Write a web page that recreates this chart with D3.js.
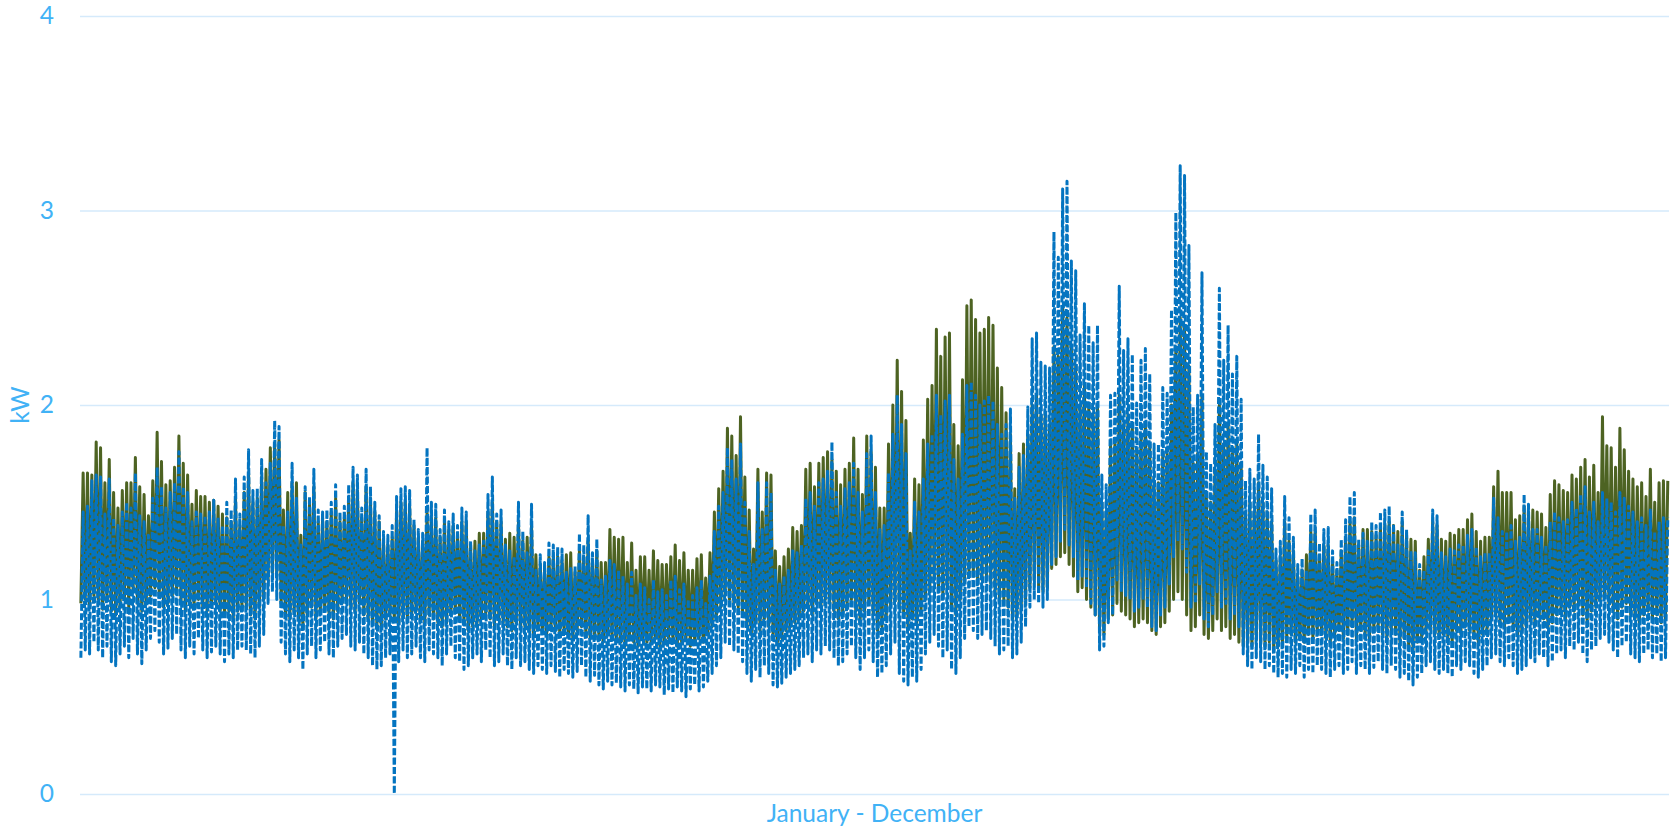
<!DOCTYPE html>
<html>
<head>
<meta charset="utf-8">
<script src="https://cdn.jsdelivr.net/npm/d3@7"></script>
<style>
  html, body { margin: 0; padding: 0; background: #ffffff; }
  svg { display: block; }
</style>
</head>
<body>
<svg id="chart" width="1675" height="828"></svg>
<script>
// Axis text
const yTicks = [0, 1, 2, 3, 4];
const xTitle = "January - December";
const yTitle = "kW";

// Daily peak (kW) of the solid series, one value per day of the year
const greenHigh = [
  // Jan - early Feb
  1.65,1.65,1.64,1.81,1.78,1.60,1.72,1.55,1.47,1.56,1.60,1.60,1.73,1.58,1.54,1.43,1.61,1.86,1.71,1.59,1.61,1.68,1.84,1.70,1.64,1.49,1.56,1.53,1.53,1.50,1.51,1.48,1.44,
  // Feb - Mar
  1.42,1.40,1.52,1.38,1.55,1.65,1.50,1.52,1.63,1.67,1.78,1.80,1.82,1.46,1.55,1.60,1.60,1.33,1.55,1.50,1.58,1.40,1.42,1.40,1.45,1.52,1.40,1.42,1.52,1.60,
  1.56,1.42,1.58,1.52,1.45,1.40,1.30,1.28,1.32,1.45,1.50,1.50,1.48,1.38,1.32,1.30,1.45,1.42,1.42,1.32,1.40,1.36,1.38,1.34,1.40,1.40,1.28,1.30,1.34,1.34,
  1.45,1.50,1.40,
  // Apr - early Jul
  1.40,1.31,1.34,1.32,1.40,1.30,1.32,1.38,1.23,1.18,1.16,1.22,1.22,1.22,1.20,1.23,1.24,1.14,1.25,1.22,1.30,1.20,1.25,1.19,1.19,1.36,1.32,1.31,1.32,1.19,
  1.29,1.15,1.22,1.22,1.15,1.25,1.20,1.18,1.18,1.22,1.28,1.20,1.24,1.15,1.15,1.21,1.23,1.11,1.24,1.45,1.57,1.66,1.88,1.84,1.74,1.94,1.63,1.46,1.26,1.67,
  1.45,1.65,1.64,1.25,1.17,1.22,1.26,1.37,1.35,1.38,1.67,1.70,1.58,1.70,1.73,1.76,1.72,1.66,1.59,1.67,1.70,1.83,1.67,1.54,1.84,1.76,1.68,1.47,1.47,1.80,
  2.00,2.23,
  // Jul
  2.07,1.92,1.34,1.62,1.59,1.82,2.03,2.10,2.39,2.25,2.35,2.37,1.90,1.79,2.13,2.51,2.54,2.44,2.37,2.39,2.45,2.41,2.19,2.09,1.96,
  // Aug - Sep
  1.85,1.57,1.75,1.80,1.85,2.00,2.05,1.95,1.95,1.90,2.30,2.25,2.50,2.45,2.30,2.20,2.00,2.10,2.00,1.95,2.00,1.50,1.45,1.80,1.80,2.05,1.90,1.95,1.90,1.75,
  1.85,1.90,1.80,1.60,1.60,1.75,1.75,2.00,2.30,2.45,2.40,2.20,1.70,1.75,2.05,1.55,1.50,1.65,2.00,1.80,1.90,1.75,1.80,1.70,1.45,1.50,1.45,1.60,1.50,1.45,
  1.40,1.20,1.22,
  // Oct - Nov
  1.40,1.30,1.25,1.12,1.15,1.23,1.35,1.35,1.22,1.28,1.28,1.20,1.15,1.25,1.32,1.40,1.42,1.28,1.36,1.36,1.35,1.33,1.37,1.38,1.40,1.38,1.35,1.40,1.33,1.31,
  1.30,1.15,1.22,1.31,1.40,1.38,1.31,1.30,1.34,1.33,1.36,1.36,1.41,1.44,1.35,1.30,1.32,1.32,1.58,1.66,1.55,1.55,1.55,1.41,1.43,1.48,1.45,1.46,
  // Dec
  1.45,1.44,1.37,1.54,1.61,1.59,1.56,1.55,1.64,1.62,1.68,1.72,1.63,1.69,1.55,1.94,1.79,1.78,1.68,1.88,1.77,1.66,1.62,1.58,1.60,1.53,1.67,1.50,1.60,1.61,
  1.61
];

// Daily minimum (kW) of the solid series
const greenLow = [
  0.98,1.00,0.96,1.02,1.00,0.95,1.00,0.94,0.92,0.96,1.00,0.96,1.04,0.98,0.94,0.98,1.02,1.06,1.02,0.96,0.98,1.02,1.04,0.98,0.94,0.98,0.96,1.00,0.96,0.94,0.96,0.98,0.94,
  0.92,0.94,0.90,0.94,0.96,0.96,0.92,0.90,0.96,1.00,1.10,1.14,1.12,0.98,0.92,0.90,0.94,0.90,0.86,0.92,0.96,0.90,0.94,0.96,0.92,0.90,0.94,0.98,1.00,0.96,
  0.94,0.98,0.92,0.90,0.88,0.86,0.86,0.90,0.92,0.90,0.88,0.92,0.90,0.92,0.94,0.90,0.88,0.92,0.90,0.88,0.86,0.88,0.92,0.94,0.90,0.88,0.84,0.86,0.88,0.90,
  0.92,0.90,0.86,
  0.90,0.88,0.86,0.84,0.88,0.86,0.86,0.84,0.82,0.86,0.84,0.82,0.86,0.84,0.82,0.84,0.82,0.80,0.84,0.86,0.82,0.80,0.82,0.80,0.78,0.82,0.80,0.80,0.78,0.76,
  0.80,0.78,0.76,0.80,0.78,0.78,0.80,0.76,0.78,0.80,0.78,0.76,0.78,0.80,0.76,0.78,0.80,0.78,0.82,
  0.86,0.92,0.96,1.02,1.00,0.98,0.96,0.92,0.86,0.82,0.88,0.84,0.90,0.86,0.80,0.78,0.80,0.84,0.86,0.88,0.90,0.94,0.96,0.92,0.98,0.96,1.00,0.98,0.94,0.90,
  0.92,0.96,1.00,0.94,0.88,0.94,0.98,0.92,0.84,0.86,0.90,0.96,1.00,
  0.96,0.92,0.86,0.90,0.88,0.94,1.00,1.04,1.10,1.06,1.02,1.06,0.96,0.92,1.00,1.10,1.14,1.12,1.08,1.10,1.12,1.08,1.04,1.00,1.00,
  0.96,0.90,0.92,0.96,1.00,1.06,1.10,1.06,1.04,1.06,1.16,1.18,1.22,1.24,1.18,1.12,1.04,1.06,1.00,0.96,0.92,0.84,0.82,0.90,0.92,0.98,0.94,0.92,0.90,0.86,
  0.88,0.90,0.88,0.84,0.82,0.86,0.88,0.94,1.00,1.04,1.00,0.92,0.84,0.86,0.92,0.82,0.80,0.84,0.90,0.84,0.86,0.80,0.82,0.78,0.76,0.78,0.76,0.80,0.78,0.76,
  0.78,0.74,0.76,
  0.78,0.80,0.82,0.78,0.80,0.78,0.82,0.80,0.84,0.82,0.80,0.78,0.82,0.84,0.80,0.82,0.86,0.80,0.84,0.82,0.80,0.84,0.86,0.82,0.80,0.84,0.82,0.78,0.80,0.76,
  0.74,0.78,0.80,0.84,0.86,0.82,0.80,0.82,0.80,0.78,0.84,0.82,0.86,0.84,0.80,0.78,0.82,0.84,0.90,0.92,0.88,0.86,0.90,0.86,0.82,
  0.84,0.86,0.90,0.88,0.92,0.90,0.86,0.88,0.92,0.94,0.90,0.96,0.94,0.98,0.92,0.88,0.94,0.96,1.00,1.02,0.98,0.94,0.90,0.96,0.98,0.92,0.90,0.88,0.92,0.94,
  0.90,0.92,0.88,0.90
];

// Daily peak (kW) of the dashed series
const blueHigh = [
  1.45,1.48,1.61,1.64,1.63,1.44,1.62,1.42,1.38,1.45,1.50,1.47,1.65,1.43,1.40,1.33,1.52,1.68,1.58,1.47,1.55,1.60,1.76,1.58,1.55,1.40,1.45,1.44,1.43,1.45,1.51,1.42,1.38,
  1.50,1.46,1.62,1.44,1.63,1.77,1.56,1.57,1.72,1.60,1.70,1.92,1.89,1.38,1.45,1.70,1.52,1.28,1.58,1.53,1.67,1.46,1.45,1.46,1.50,1.59,1.45,1.48,1.59,1.68,
  1.64,1.47,1.67,1.58,1.50,1.43,1.35,1.33,1.38,1.53,1.57,1.58,1.56,1.41,1.36,1.34,1.78,1.50,1.49,1.36,1.46,1.40,1.44,1.38,1.47,1.45,1.30,1.25,1.28,1.30,
  1.54,1.63,1.44,
  1.46,1.28,1.25,1.22,1.50,1.35,1.24,1.49,1.15,1.23,1.19,1.29,1.28,1.27,1.26,1.14,1.16,1.17,1.34,1.28,1.43,1.24,1.31,1.10,1.12,1.20,1.18,1.15,1.12,1.08,
  1.14,1.02,1.08,1.06,1.00,1.10,1.04,1.05,1.02,1.10,1.12,1.05,1.08,1.00,1.02,1.06,1.10,0.98,1.12,1.35,1.48,1.55,1.78,1.72,1.62,1.80,1.50,1.35,1.18,1.60,
  1.36,1.60,1.55,1.15,1.08,1.12,1.15,1.25,1.24,1.28,1.52,1.55,1.48,1.60,1.62,1.66,1.81,1.55,1.48,1.57,1.60,1.70,1.55,1.45,1.75,1.84,1.55,1.36,1.38,1.65,
  1.85,2.05,
  1.90,1.75,1.25,1.50,1.45,1.62,1.80,1.85,2.05,1.95,2.02,2.05,1.72,1.62,1.85,2.10,2.12,2.05,2.00,2.02,2.05,2.02,1.90,1.85,1.90,
  1.98,1.52,1.68,1.74,1.99,2.34,2.37,2.22,2.20,2.19,2.89,2.76,3.11,3.15,2.74,2.69,2.36,2.52,2.41,2.32,2.41,1.64,1.59,2.05,2.06,2.61,2.28,2.34,2.26,2.01,
  2.23,2.29,2.16,1.80,1.80,2.09,2.06,2.49,2.99,3.23,3.18,2.82,1.99,2.05,2.68,1.76,1.70,1.90,2.60,2.23,2.41,2.16,2.25,2.03,1.61,1.67,1.62,1.85,1.69,1.63,
  1.57,1.26,1.30,
  1.53,1.42,1.32,1.18,1.21,1.15,1.44,1.46,1.29,1.36,1.37,1.25,1.19,1.31,1.41,1.53,1.55,1.31,1.34,1.30,1.40,1.38,1.45,1.46,1.48,1.39,1.28,1.45,1.36,1.25,
  1.24,1.18,1.15,1.25,1.46,1.43,1.24,1.22,1.26,1.25,1.28,1.28,1.33,1.36,1.27,1.22,1.24,1.24,1.52,1.42,1.35,1.35,1.38,1.30,1.32,1.54,1.49,1.36,1.36,1.32,
  1.28,1.40,1.45,1.42,1.40,1.41,1.50,1.47,1.54,1.58,1.45,1.50,1.40,1.55,1.52,1.50,1.45,1.55,1.52,1.48,1.45,1.40,1.42,1.38,1.46,1.35,1.40,1.42,1.42
];

// Daily minimum (kW) of the dashed series (one outage reads 0 in March)
const blueLow = [
  0.70,0.74,0.72,0.78,0.74,0.70,0.76,0.68,0.66,0.72,0.76,0.70,0.80,0.72,0.67,0.74,0.80,0.84,0.78,0.72,0.75,0.80,0.82,0.74,0.70,0.76,0.72,0.80,0.74,0.70,0.73,0.76,0.72,
  0.68,0.72,0.70,0.74,0.76,0.74,0.72,0.70,0.76,0.82,0.98,1.04,1.00,0.78,0.72,0.68,0.74,0.70,0.64,0.72,0.76,0.70,0.74,0.78,0.72,0.70,0.76,0.80,0.82,0.76,
  0.74,0.78,0.72,0.70,0.66,0.64,0.66,0.70,0.72,0.00,
  0.68,0.74,0.70,0.72,0.76,0.70,0.68,0.74,0.72,0.70,0.66,0.72,0.76,0.70,0.68,0.64,0.66,0.70,0.72,0.68,0.74,0.70,0.66,
  0.68,0.72,0.66,0.64,0.70,0.66,0.68,0.64,0.62,0.66,0.64,0.62,0.66,0.63,0.60,0.64,0.62,0.60,0.63,0.66,0.60,0.58,0.61,0.56,0.54,0.58,0.56,0.57,0.55,0.53,
  0.56,0.54,0.52,0.55,0.54,0.53,0.56,0.55,0.51,0.54,0.52,0.55,0.53,0.50,0.54,0.56,0.53,0.55,0.58,
  0.62,0.66,0.70,0.78,0.76,0.74,0.72,0.68,0.62,0.58,0.64,0.60,0.66,0.62,0.56,0.55,0.57,0.60,0.62,0.64,0.66,0.70,0.72,0.68,0.74,0.72,0.76,0.74,0.70,0.66,
  0.68,0.72,0.76,0.70,0.64,0.70,0.74,0.68,0.60,0.62,0.66,0.72,0.78,
  0.62,0.58,0.56,0.60,0.58,0.64,0.72,0.78,0.82,0.76,0.70,0.74,0.64,0.62,0.70,0.80,0.86,0.84,0.80,0.82,0.84,0.80,0.76,0.72,0.74,
  0.76,0.70,0.72,0.78,0.86,0.96,1.00,0.98,0.96,1.00,1.18,1.22,1.30,1.36,1.28,1.22,1.10,1.12,1.06,0.98,0.92,0.74,0.76,0.88,0.92,1.10,1.04,1.02,1.00,0.94,
  0.96,1.00,0.96,0.86,0.84,0.92,0.96,1.08,1.22,1.30,1.26,1.14,0.96,0.98,1.08,0.90,0.86,0.92,1.04,0.96,0.98,0.90,0.92,0.86,0.72,0.66,0.64,0.70,0.68,0.64,
  0.66,0.62,0.60,
  0.62,0.60,0.64,0.62,0.66,0.60,0.64,0.62,0.66,0.64,0.62,0.60,0.64,0.66,0.62,0.64,0.68,0.62,0.66,0.64,0.62,0.65,0.68,0.64,0.62,0.66,0.64,0.60,0.62,0.58,
  0.56,0.60,0.62,0.66,0.68,0.64,0.62,0.64,0.62,0.60,0.66,0.64,0.68,0.66,0.62,0.60,0.64,0.66,0.70,0.72,0.68,0.66,0.70,0.66,0.62,
  0.64,0.66,0.70,0.68,0.72,0.70,0.66,0.68,0.72,0.74,0.70,0.76,0.74,0.78,0.72,0.68,0.74,0.76,0.80,0.82,0.78,0.74,0.70,0.76,0.78,0.72,0.70,0.68,0.72,0.74,
  0.70,0.72,0.68,0.70
];

const plot = { left: 80, right: 1669, top: 16, bottom: 794 };
const font = "Lato, 'Open Sans', 'Noto Sans', sans-serif";
const textColor = "#41b2f6";
const gridColor = "#d5eafb";
const fontSize = "24.5px";

const svg = d3.select("#chart");

const x = d3.scaleLinear().domain([0, greenHigh.length]).range([plot.left, plot.right]);
const y = d3.scaleLinear().domain([0, 4]).range([plot.bottom, plot.top]);

// Horizontal gridlines with value labels
svg.append("g")
  .attr("transform", `translate(${plot.left},0)`)
  .call(d3.axisLeft(y)
    .tickValues(yTicks)
    .tickSize(-(plot.right - plot.left))
    .tickPadding(26)
    .tickFormat(d3.format("d")))
  .call(g => {
    g.select(".domain").remove();
    g.selectAll(".tick line").attr("stroke", gridColor).attr("stroke-width", 1.6);
    g.selectAll(".tick text")
      .attr("fill", textColor)
      .style("font-family", font)
      .style("font-size", fontSize);
  });

// Each day: overnight minimum followed by the evening peak
const dailyPoints = (lows, highs) =>
  lows.flatMap((lo, i) => [[i + 0.2, lo], [i + 0.72, highs[i]]]);

const line = d3.line()
  .x(d => x(d[0]))
  .y(d => y(d[1]));

svg.append("path")
  .datum(dailyPoints(greenLow, greenHigh))
  .attr("d", line)
  .attr("fill", "none")
  .attr("stroke", "#4d6322")
  .attr("stroke-width", 3)
  .attr("stroke-linejoin", "round");

svg.append("path")
  .datum(dailyPoints(blueLow, blueHigh))
  .attr("d", line)
  .attr("fill", "none")
  .attr("stroke", "#0474c0")
  .attr("stroke-width", 3)
  .attr("stroke-dasharray", "7,2.4")
  .attr("stroke-linejoin", "round");

// Axis titles
svg.append("text")
  .attr("x", (plot.left + plot.right) / 2)
  .attr("y", 822)
  .attr("text-anchor", "middle")
  .attr("fill", textColor)
  .style("font-family", font)
  .style("font-size", fontSize)
  .text(xTitle);

svg.append("text")
  .attr("transform", `translate(29,${y(2)}) rotate(-90)`)
  .attr("text-anchor", "middle")
  .attr("fill", textColor)
  .style("font-family", font)
  .style("font-size", fontSize)
  .text(yTitle);
</script>
</body>
</html>
